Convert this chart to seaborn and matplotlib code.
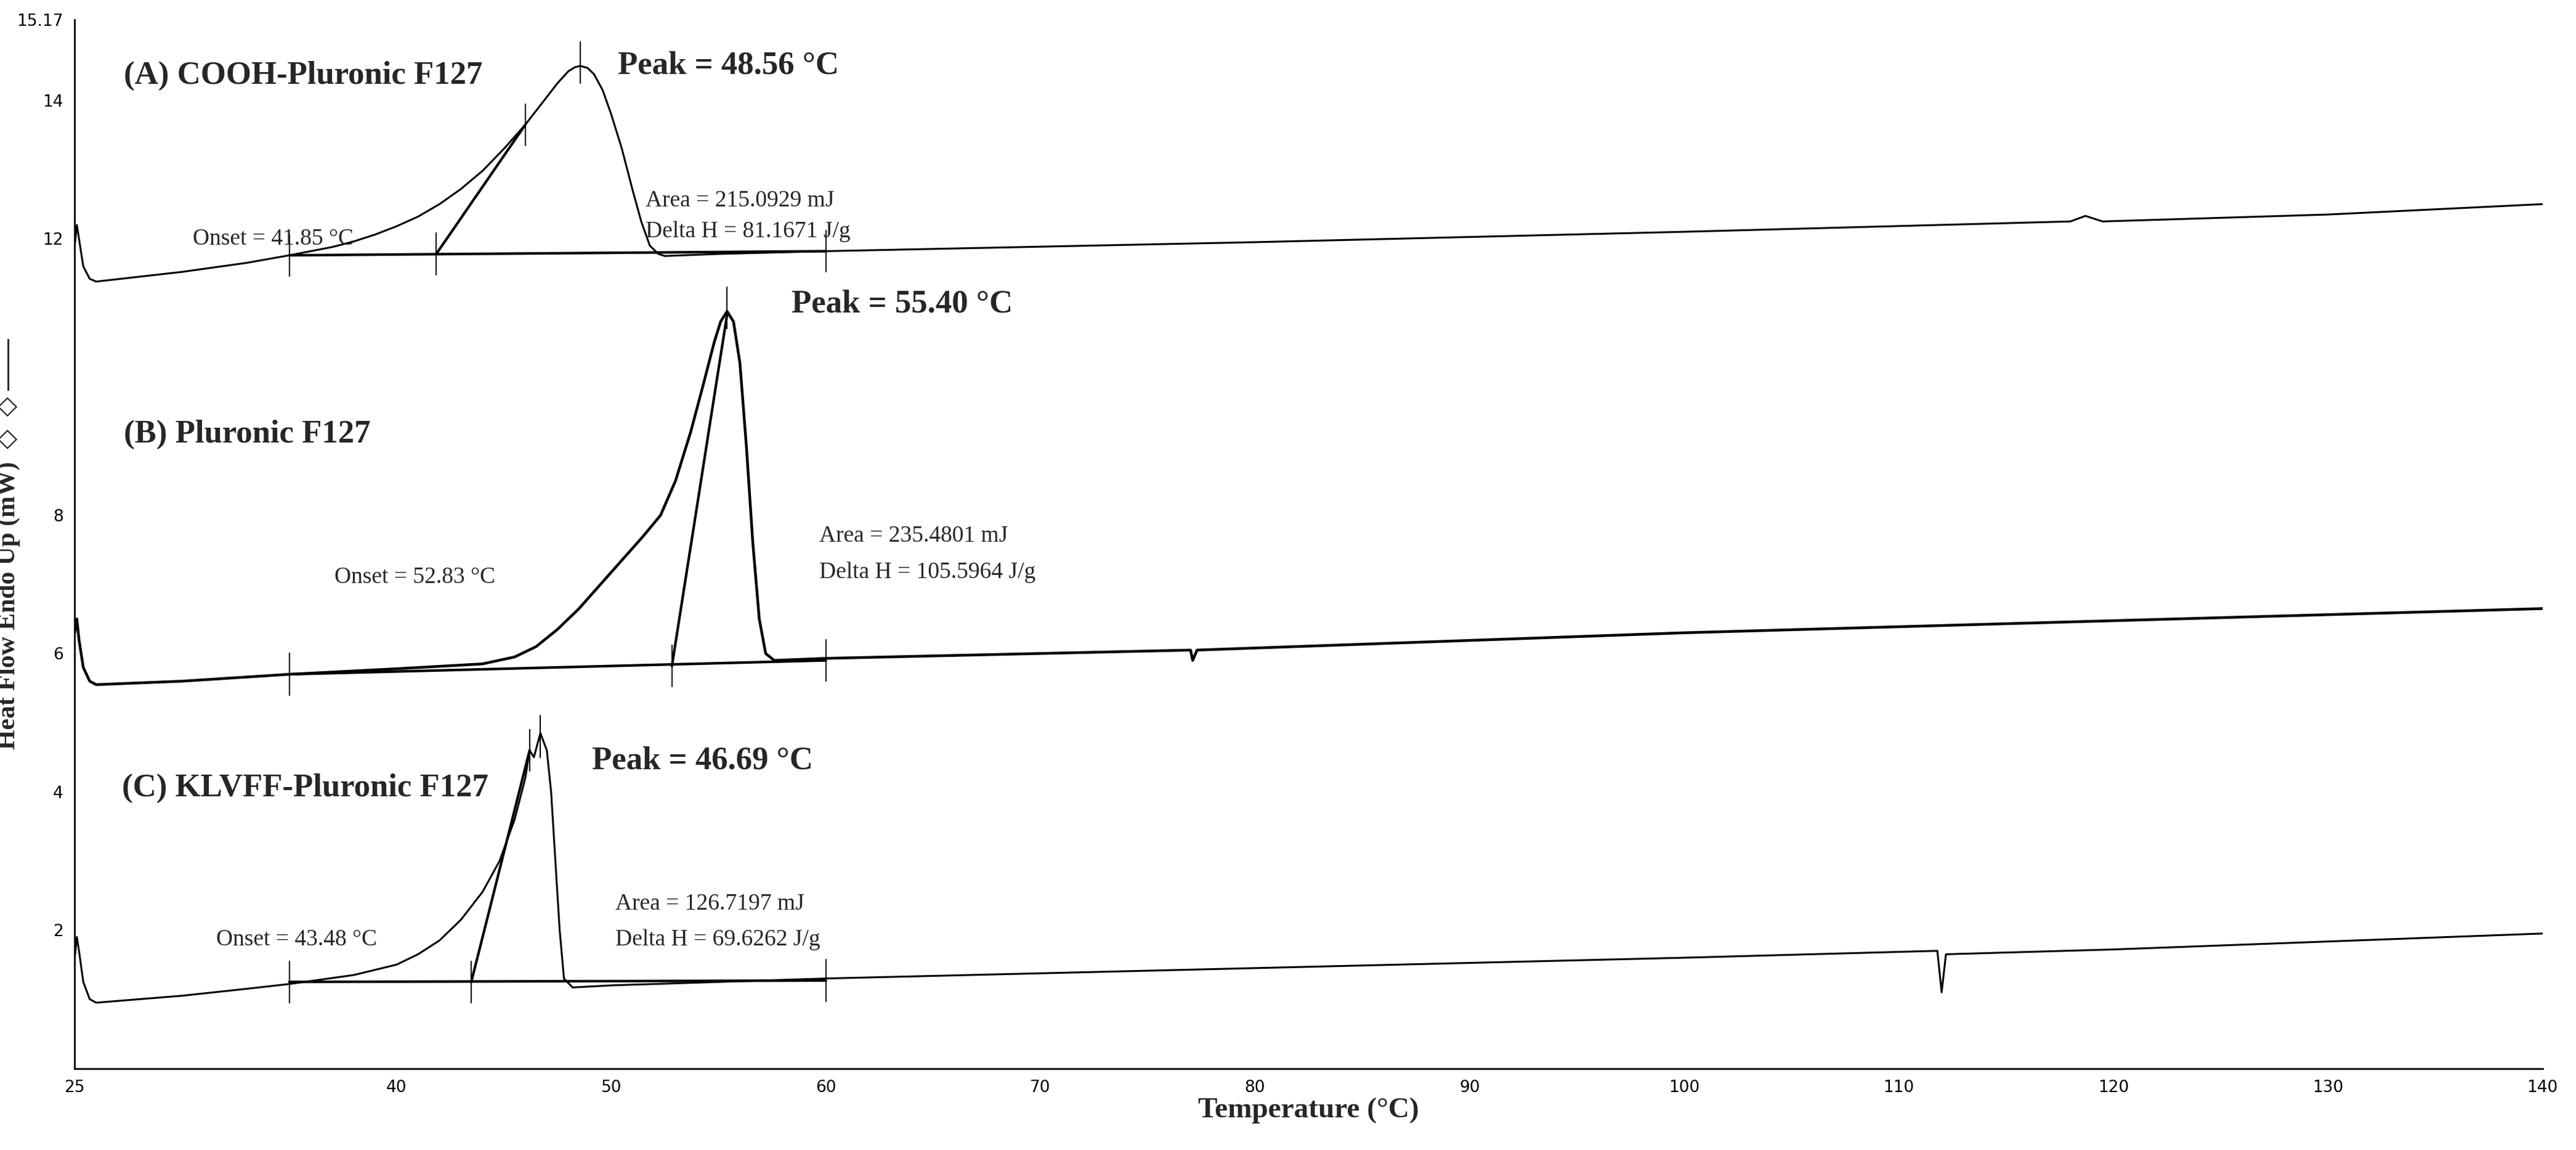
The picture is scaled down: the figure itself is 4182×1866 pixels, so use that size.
import numpy as np
import pandas as pd
import matplotlib
matplotlib.use('Agg')
import matplotlib.pyplot as plt
import seaborn as sns

sns.set_style('white')
plt.rcParams['font.family'] = ['Liberation Serif', 'DejaVu Serif']

# curve points (temperature, heat flow)
temp_a = [25.0, 25.1, 25.2, 25.4, 25.7, 26.0, 28, 30, 33, 35, 37, 38, 39, 40, 41, 42, 43, 44, 45, 46, 46.5, 47, 47.5, 48, 48.3, 48.56, 48.9, 49.2, 49.6, 50, 50.5, 51, 51.4, 51.8, 52.2, 52.5, 55, 60, 80, 100, 118, 118.7, 119, 119.5, 130, 140]
flow_a = [11.9, 12.2, 12.0, 11.6, 11.42, 11.38, 11.45, 11.52, 11.65, 11.76, 11.88, 11.96, 12.06, 12.18, 12.32, 12.5, 12.72, 12.98, 13.3, 13.65, 13.85, 14.05, 14.25, 14.42, 14.48, 14.5, 14.47, 14.38, 14.15, 13.8, 13.3, 12.7, 12.25, 11.9, 11.78, 11.75, 11.78, 11.82, 11.95, 12.1, 12.25, 12.33, 12.3, 12.25, 12.35, 12.5]

temp_b = [25.0, 25.1, 25.2, 25.4, 25.7, 26.0, 30, 35, 40, 44, 45.5, 46.5, 47.5, 48.5, 49.5, 50.5, 51.5, 52.3, 53, 53.7, 54.3, 54.8, 55.1, 55.4, 55.7, 56.0, 56.3, 56.6, 56.9, 57.2, 57.6, 60, 77, 77.1, 77.3, 100, 140]
flow_b = [6.3, 6.5, 6.2, 5.8, 5.6, 5.55, 5.6, 5.7, 5.78, 5.85, 5.95, 6.1, 6.35, 6.65, 7.0, 7.35, 7.7, 8.0, 8.5, 9.2, 9.9, 10.5, 10.8, 10.95, 10.8, 10.2, 9.0, 7.6, 6.5, 6.0, 5.9, 5.93, 6.05, 5.9, 6.05, 6.3, 6.65]

temp_c = [25.0, 25.1, 25.2, 25.4, 25.7, 26.0, 28, 30, 33, 35, 38, 40, 41, 42, 43, 44, 44.8, 45.5, 46.0, 46.2, 46.4, 46.7, 47.0, 47.2, 47.4, 47.6, 47.8, 48.2, 50, 60, 80, 100, 111.8, 112, 112.2, 120, 140]
flow_c = [1.6, 1.9, 1.7, 1.25, 1.0, 0.95, 1.0, 1.05, 1.15, 1.22, 1.35, 1.5, 1.65, 1.85, 2.15, 2.55, 3.0, 3.6, 4.2, 4.6, 4.5, 4.85, 4.6, 4.0, 3.0, 2.0, 1.3, 1.17, 1.2, 1.3, 1.45, 1.6, 1.7, 1.1, 1.65, 1.72, 1.95]

# baselines, tangents and marker ticks
base_x = [35, 60]
base_a = [11.76, 11.82]
base_b = [5.7, 5.9]
base_c = [1.25, 1.27]
tan_a_x = [41.85, 46.0]; tan_a_y = [11.78, 13.65]
tan_b_x = [52.83, 55.4]; tan_b_y = [5.82, 10.9]
tan_c_x = [43.48, 46.2]; tan_c_y = [1.25, 4.6]
ticks_a = [(35, 11.76), (41.85, 11.78), (60, 11.82), (46.0, 13.65), (48.56, 14.55)]
ticks_b = [(35, 5.7), (52.83, 5.82), (60, 5.9), (55.4, 11.0)]
ticks_c = [(35, 1.25), (43.48, 1.25), (60, 1.27), (46.2, 4.6), (46.69, 4.8)]

titles = ['(A) COOH-Pluronic F127', '(B) Pluronic F127', '(C) KLVFF-Pluronic F127']
title_pos = [(27.3, 14.36), (27.3, 9.17), (27.2, 4.05)]
peaks = ['Peak = 48.56 °C', 'Peak = 55.40 °C', 'Peak = 46.69 °C']
peak_pos = [(50.3, 14.5), (58.4, 11.05), (49.1, 4.45)]
onsets = ['Onset = 41.85 °C', 'Onset = 52.83 °C', 'Onset = 43.48 °C']
onset_pos = [(30.5, 12.0), (37.1, 7.1), (31.6, 1.86)]
areas = ['Area = 215.0929 mJ', 'Area = 235.4801 mJ', 'Area = 126.7197 mJ']
deltas = ['Delta H = 81.1671 J/g', 'Delta H = 105.5964 J/g', 'Delta H = 69.6262 J/g']
area_pos = [(51.6, 12.55), (59.7, 7.7), (50.2, 2.38)]
delta_pos = [(51.6, 12.1), (59.7, 7.17), (50.2, 1.86)]

fig = plt.figure(figsize=(41.82, 18.66), dpi=100)
ax = fig.add_axes([0.029, 0.071, 0.958, 0.912])

for tx, fy, lw in [(temp_a, flow_a, 2.2), (temp_b, flow_b, 3.2), (temp_c, flow_c, 2.2)]:
    d = pd.DataFrame({'T': tx, 'H': fy})
    sns.lineplot(data=d, x='T', y='H', ax=ax, color='black', lw=lw, sort=False)

for by in [base_a, base_b, base_c]:
    ax.plot(base_x, by, color='black', lw=3)
for tx, ty in [(tan_a_x, tan_a_y), (tan_b_x, tan_b_y), (tan_c_x, tan_c_y)]:
    ax.plot(tx, ty, color='black', lw=3)
for tl in [ticks_a, ticks_b, ticks_c]:
    for x0, y0 in tl:
        ax.plot([x0, x0], [y0 - 0.3, y0 + 0.3], color='black', lw=1.5)

for i in range(3):
    ax.text(*title_pos[i], titles[i], fontsize=38, fontweight='bold', va='center')
    ax.text(*peak_pos[i], peaks[i], fontsize=38, fontweight='bold', va='center')
    ax.text(*onset_pos[i], onsets[i], fontsize=27, va='center')
    ax.text(*area_pos[i], areas[i], fontsize=27, va='center')
    ax.text(*delta_pos[i], deltas[i], fontsize=27, va='center')

ax.set_xlim(25, 140)
ax.set_ylim(0, 15.17)
xt = [25, 30, 40, 50, 60, 70, 80, 90, 100, 110, 120, 130, 140]
ax.set_xticks(xt)
ax.set_xticklabels(['' if v == 30 else str(v) for v in xt], fontsize=19, family='DejaVu Sans')
yt = [2, 4, 6, 8, 10, 12, 14, 15.17]
ax.set_yticks(yt)
ax.set_yticklabels(['2', '4', '6', '8', '', '12', '14', '15.17'], fontsize=19, family='DejaVu Sans')
ax.tick_params(axis='both', direction='out', length=10, width=1.5, colors='black')
for s in ['top', 'right']:
    ax.spines[s].set_visible(False)
for s in ['left', 'bottom']:
    ax.spines[s].set_color('black')
    ax.spines[s].set_linewidth(2)
ax.set_xlabel('Temperature (°C)', fontsize=34, fontweight='bold', labelpad=2)
ax.set_ylabel('Heat Flow Endo Up (mW)  \u25c7  \u25c7 ——', fontsize=30, fontweight='bold', labelpad=8)
ax.yaxis.set_label_coords(-0.022, 0.5)
fig.savefig('out.png', dpi=100)
